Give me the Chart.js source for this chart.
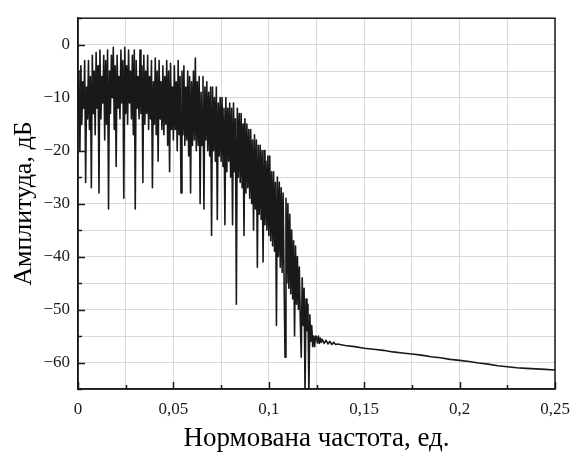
<!DOCTYPE html>
<html>
<head>
<meta charset="utf-8">
<title>Амплитуда спектра</title>
<script src="https://cdn.jsdelivr.net/npm/chart.js@4.4.0/dist/chart.umd.min.js"></script>
<style>
  html, body { margin: 0; padding: 0; background: #fff; }
  #wrap { width: 584px; height: 459px; }
</style>
</head>
<body>
<div id="wrap"><canvas id="spectrum" width="584" height="459"></canvas></div>
<script>
/* Noisy band: samples every BAND_STEP of normalised frequency, starting at 0 (dB) */
var BAND_STEP = 0.0005;
var bandDb = [
  -5, -13, -20, -4, -15, -7, -12, -3, -26, -8,
  -14, -3, -16, -6, -27, -2, -13, -5, -17, -1.5,
  -12, -4, -28, -1, -14, -6, -11, -2, -18, -3,
  -15, -1, -31, -5, -13, -2, -10, -0.5, -16, -4,
  -23, -2, -12, -6, -14, -1, -11, -3, -29, -0.5,
  -13, -4, -15, -1, -11, -5, -14, -2, -17, -1,
  -31, -3, -12, -6, -14, -1, -13, -4, -26, -2,
  -15, -5, -13, -2, -16, -6, -14, -3, -27, -7,
  -15, -2.5, -17, -5, -22, -3, -14, -7, -16, -4,
  -17, -6, -15, -3, -19, -5, -24, -3.5, -16, -8,
  -18, -4, -16, -7, -20, -3, -17, -6, -28, -5,
  -17, -4, -19, -8, -18, -5, -21, -6, -28, -7,
  -19, -5, -18, -2.5, -20, -7, -19, -6, -30, -9,
  -19, -6, -31, -8, -18, -7, -20, -9, -21, -8,
  -36, -8, -20, -10, -22, -8, -33, -11, -21, -10,
  -22, -10, -23, -12, -34, -10, -24, -12, -22, -11,
  -25, -12, -34, -11, -24, -14, -49, -12, -25, -13,
  -26, -13, -27, -15, -36, -14, -28, -15, -27, -16,
  -29, -16, -30, -18, -35, -17, -31, -18, -42, -19,
  -32, -19, -33, -20, -41, -20, -34, -22, -35, -21,
  -36, -21, -37, -24, -38, -24, -39, -26, -53, -25,
  -40, -26, -42, -27, -43, -28, -44, -59, -29, -45,
  -30, -46, -32, -47, -35, -48, -37, -55, -38, -49,
  -40, -50, -42, -52, -59, -44, -53, -46, -66, -48,
  -54, -49, -66, -51, -56, -53, -57, -55, -57, -55
];

/* Smooth tail above the cut-off */
var tailFreq = [0.125, 0.1255, 0.126, 0.1265, 0.127, 0.1275, 0.128, 0.129, 0.13, 0.131,
  0.132, 0.133, 0.134, 0.135, 0.136, 0.14, 0.145, 0.15, 0.155, 0.16,
  0.165, 0.17, 0.175, 0.18, 0.185, 0.19, 0.195, 0.2, 0.205, 0.21,
  0.215, 0.22, 0.225, 0.23, 0.235, 0.24, 0.245, 0.25];
var tailDb = [-55.2, -56.3, -55.0, -56.4, -55.4, -56.2, -55.6, -56.4, -55.8, -56.5,
  -56.0, -56.6, -56.2, -56.6, -56.5, -56.8, -57.0, -57.3, -57.5, -57.7,
  -58.0, -58.2, -58.4, -58.6, -58.9, -59.1, -59.4, -59.6, -59.8, -60.1,
  -60.3, -60.6, -60.8, -61.0, -61.1, -61.2, -61.3, -61.4];

/* Axis ticks: every tick gets a grid line, only these get a label */
var xLabelTicks = [0, 0.05, 0.1, 0.15, 0.2, 0.25];
var yLabelTicks = [0, -10, -20, -30, -40, -50, -60];

(function () {
  'use strict';

  var SERIF = "'Liberation Serif', 'Times New Roman', serif";
  var INK = '#1a1a1a';

  function round3(v) { return Math.round(v * 1000) / 1000; }
  function isXLabel(v) { return xLabelTicks.indexOf(round3(v)) !== -1; }
  function isYLabel(v) { return yLabelTicks.indexOf(Math.round(v)) !== -1; }
  function fmtX(v) { return String(round3(v)).replace('.', ','); }
  function fmtY(v) { return v < 0 ? '\u2212' + Math.abs(v) : String(v); }

  var points = [];
  bandDb.forEach(function (db, i) { points.push({ x: Math.round(i * BAND_STEP * 1e5) / 1e5, y: db }); });
  tailFreq.forEach(function (f, i) { points.push({ x: f, y: tailDb[i] }); });

  /* inward tick marks + closing frame (top and right sides) */
  var frame = {
    id: 'frame',
    afterDatasetsDraw: function (chart) {
      var ctx = chart.ctx, a = chart.chartArea;
      var xs = chart.scales.x, ys = chart.scales.y;
      ctx.save();
      ctx.strokeStyle = INK;
      ctx.lineWidth = 1.5;
      xs.ticks.forEach(function (t) {
        var px = Math.round(xs.getPixelForValue(t.value)) + 0.5;
        var len = isXLabel(t.value) ? 7 : 4;
        ctx.beginPath(); ctx.moveTo(px, a.bottom); ctx.lineTo(px, a.bottom - len); ctx.stroke();
      });
      ys.ticks.forEach(function (t) {
        var py = Math.round(ys.getPixelForValue(t.value)) + 0.5;
        var len = isYLabel(t.value) ? 7 : 4;
        ctx.beginPath(); ctx.moveTo(a.left, py); ctx.lineTo(a.left + len, py); ctx.stroke();
      });
      ctx.strokeRect(a.left, a.top, a.right - a.left, a.bottom - a.top);
      ctx.restore();
    }
  };

  new Chart(document.getElementById('spectrum').getContext('2d'), {
    type: 'line',
    data: {
      datasets: [{
        label: 'Спектр',
        data: points,
        borderColor: 'rgba(0, 0, 0, 0.9)',
        borderWidth: 1.6,
        borderJoinStyle: 'round',
        pointRadius: 0,
        tension: 0,
        fill: false
      }]
    },
    plugins: [frame],
    options: {
      responsive: false,
      animation: false,
      devicePixelRatio: 1,
      layout: { padding: { top: 6, right: 29, left: 0, bottom: 0 } },
      plugins: { legend: { display: false }, tooltip: { enabled: false } },
      scales: {
        x: {
          type: 'linear',
          min: 0,
          max: 0.25,
          afterFit: function (s) { s.height = 70; },
          grid: { color: '#d9d9d9', lineWidth: 1, drawTicks: false },
          border: { color: INK, width: 1.5 },
          ticks: {
            stepSize: 0.025,
            maxTicksLimit: 20,
            autoSkip: false,
            maxRotation: 0,
            padding: 10,
            color: INK,
            font: { family: SERIF, size: 17 },
            callback: function (v) { return isXLabel(v) ? fmtX(v) : ''; }
          },
          title: {
            display: true,
            text: 'Нормована частота, ед.',
            color: '#000',
            font: { family: SERIF, size: 27 },
            padding: { top: 0, bottom: 4 }
          }
        },
        y: {
          min: -65,
          max: 5,
          afterFit: function (s) { s.width = 78; },
          grid: { color: '#d9d9d9', lineWidth: 1, drawTicks: false },
          border: { color: INK, width: 1.5 },
          ticks: {
            stepSize: 5,
            maxTicksLimit: 20,
            autoSkip: false,
            padding: 8,
            color: INK,
            font: { family: SERIF, size: 17 },
            callback: function (v) { return isYLabel(v) ? fmtY(v) : ''; }
          },
          title: {
            display: true,
            text: 'Амплитуда, дБ',
            color: '#000',
            font: { family: SERIF, size: 26 },
            padding: { top: 9, bottom: 0 }
          }
        }
      }
    }
  });
})();
</script>
</body>
</html>
